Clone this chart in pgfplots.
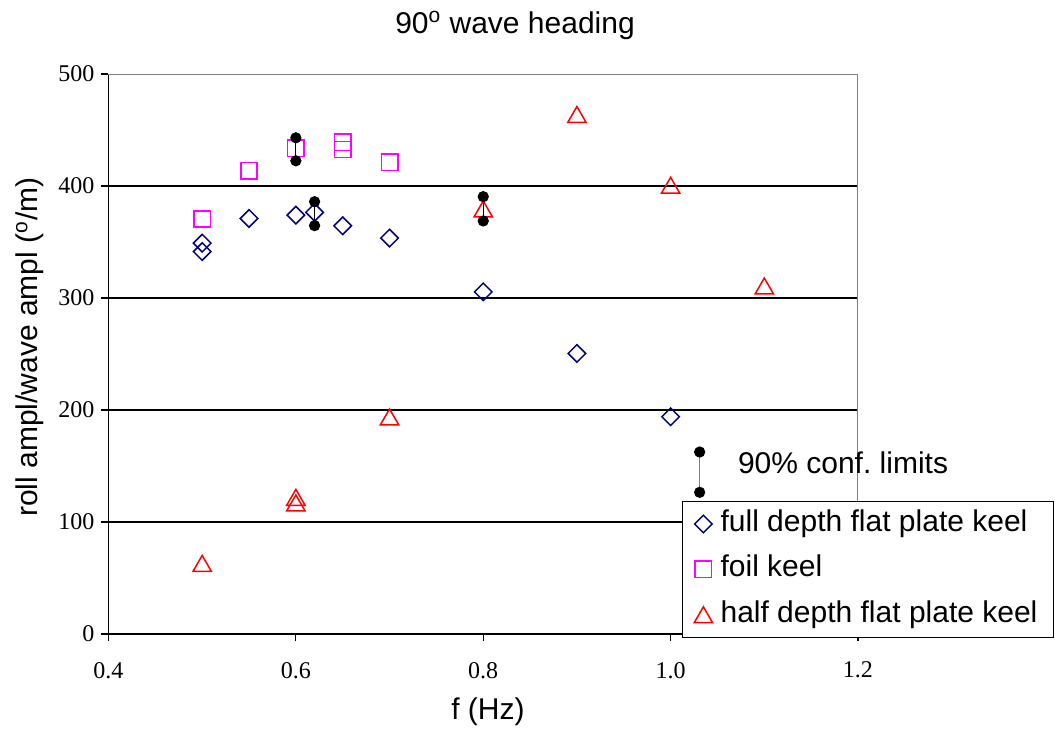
\documentclass[border=0pt]{standalone}
\usepackage{pgfplots}
\pgfplotsset{compat=1.18}
\usepackage{fontspec}
\setmainfont{Liberation Sans}
\newfontfamily\tickfont{Liberation Serif}
\definecolor{navyc}{RGB}{0,0,128}
\definecolor{magc}{RGB}{255,0,255}
\definecolor{redc}{RGB}{255,0,0}

\begin{document}
\begin{tikzpicture}
\path[use as bounding box] (-54.25pt,-48pt) rectangle (473.25pt,317pt);
\begin{axis}[
  at={(0pt,0pt)}, anchor=south west,
  scale only axis, width=374.75pt, height=280pt,
  xmin=0.4, xmax=1.2, ymin=0, ymax=500,
  xtick={0.4,0.6,0.8,1.0,1.2},
  ytick={0,500},
  extra y ticks={100,200,300,400},
  extra y tick style={grid=major},
  major grid style={black, line width=0.6pt},
  axis lines*=left,
  axis line style={black, line width=0.8pt},
  tick align=outside, major tick length=3.5pt,
  tick style={black, line width=0.6pt},
  clip=false,
  /pgf/number format/assume math mode=true,
  ticklabel style={font=\tickfont\fontsize{12}{14}\selectfont},
  xticklabel style={yshift=-7pt, /pgf/number format/.cd, fixed, fixed zerofill, precision=1},
  xlabel={f (Hz)},
  xlabel style={at={(axis description cs:0.5063,-0.139)}, anchor=center, font=\fontsize{15}{18}\selectfont},
  ylabel={roll ampl/wave ampl (\textsuperscript{o}/m)},
  ylabel style={at={(axis description cs:-0.1047,0.5125)}, anchor=center, font=\fontsize{15}{18}\selectfont},
  legend image code/.code={\draw[#1] plot coordinates {(4.5pt,0pt)};},
  legend cell align=left,
  legend style={at={(axis description cs:0.7648,0.2375)}, anchor=north west,
    draw=black, line width=0.5pt, fill=white,
    font=\fontsize{15}{18}\selectfont,
    inner xsep=6pt, inner ysep=2pt, row sep=4.2pt, column sep=2pt,
    nodes={inner sep=2pt, text height=11pt, text depth=3.5pt}},
]
\addplot[only marks, mark=square, mark size=3.1pt, mark options={rotate=45, draw=navyc, line width=0.75pt}]
  coordinates {(0.5,349) (0.5,341.5) (0.55,371) (0.6,374) (0.62,376.5) (0.65,364.5) (0.7,353.5) (0.8,305.5) (0.9,250.5) (1.0,194)};
\addlegendentry{full depth flat plate keel}
\addplot[only marks, mark=square, mark size=4.1pt, mark options={draw=magc, line width=0.75pt}]
  coordinates {(0.5,370.5) (0.55,413.7) (0.6,433.6) (0.65,439) (0.65,432.6) (0.7,421.2)};
\addlegendentry{foil keel}
\addplot[only marks, mark=triangle, mark size=5.3pt, mark options={draw=redc, line width=0.75pt, yshift=-1.3pt}]
  coordinates {(0.5,63) (0.6,122) (0.6,117) (0.7,193.8) (0.8,379.5) (0.9,463.8) (1.0,400.6) (1.1,310.7)};
\addlegendentry{half depth flat plate keel}
\addplot[forget plot, black, line width=0.6pt, mark=*, mark size=2.5pt, mark options={fill=black}]
  coordinates {(0.6,443) (0.6,422.5)};
\addplot[forget plot, black, line width=0.6pt, mark=*, mark size=2.5pt, mark options={fill=black}]
  coordinates {(0.62,386) (0.62,364.6)};
\addplot[forget plot, black, line width=0.6pt, mark=*, mark size=2.5pt, mark options={fill=black}]
  coordinates {(0.8,390.5) (0.8,368.8)};
\addplot[forget plot, gray, line width=0.6pt, mark=*, mark size=2.5pt, mark options={fill=black, draw=black}]
  coordinates {(1.031,162.5) (1.031,126.5)};
\draw[gray, line width=0.5pt] (rel axis cs:0,1) -- (rel axis cs:1,1) -- (rel axis cs:1,0);
\node[anchor=west, font=\fontsize{15}{18}\selectfont, inner sep=0pt] at (axis cs:1.0715,152.7) {90\% conf.\ limits};
\node[anchor=base, font=\fontsize{15}{18}\selectfont, inner sep=0pt] at (axis description cs:0.5424,1.0732) {90\textsuperscript{o} wave heading};
\end{axis}
\end{tikzpicture}
\end{document}
